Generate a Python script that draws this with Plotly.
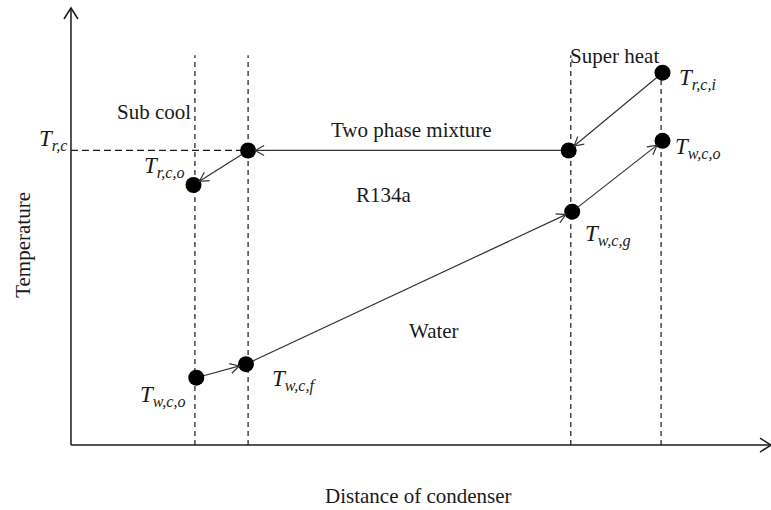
import math
import plotly.graph_objects as go

# Refrigerant (R134a) path through the condenser: inlet -> saturated vapour -> saturated liquid -> outlet
r_dist = [84.5, 71.1, 25.3, 17.5]
r_temp = [85.2, 67.4, 67.4, 59.5]
r_labels = ["<i>T<sub>r,c,i</sub></i>", "", "", "<i>T<sub>r,c,o</sub></i>"]

# Cooling water path (counter-flow)
w_dist = [17.9, 25.0, 71.6, 84.5]
w_temp = [15.4, 18.5, 53.4, 69.6]
w_labels = ["<i>T<sub>w,c,o</sub></i>", "<i>T<sub>w,c,f</sub></i>",
            "<i>T<sub>w,c,g</sub></i>", "<i>T<sub>w,c,o</sub></i>"]

# Zone boundaries along the condenser and the condensing temperature
zone_bounds = [17.7, 25.3, 71.4, 84.3]
zone_top = 89.2
T_rc = 67.4
T_rc_label = "<i>T<sub>r,c</sub></i>"

FONT = "Liberation Serif"
INK = "#1a1a1a"

W, H = 771, 510
# the drawing area fills the whole figure; the axes run 0..100 inside it
X_RANGE = [-10.14, 100.0]
Y_RANGE = [-14.87, 101.83]
# pixels per data unit, used to orient arrowheads on screen
SX = W / (X_RANGE[1] - X_RANGE[0])
SY = H / (Y_RANGE[1] - Y_RANGE[0])
AXIS_MAX = 100

fig = go.Figure()
shapes = []

# dashed zone boundaries
for i, xb in enumerate(zone_bounds):
    top = r_temp[0] if i == len(zone_bounds) - 1 else zone_top
    shapes.append(dict(type="line", x0=xb, x1=xb, y0=0, y1=top, xref="x", yref="y",
                       line=dict(color=INK, width=1.2, dash="5px,4px"), layer="below"))
# dashed condensing temperature line
shapes.append(dict(type="line", x0=0, x1=zone_bounds[1], y0=T_rc, y1=T_rc, xref="x", yref="y",
                   line=dict(color=INK, width=1.2, dash="7px,4px"), layer="below"))


def arrow(x0, y0, x1, y1, color, width, head_len, head_half, standoff):
    """Straight shaft plus an open V head whose tip sits `standoff` px before (x1, y1)."""
    dx, dy = (x1 - x0) * SX, (y1 - y0) * SY
    n = math.hypot(dx, dy)
    ux, uy = dx / n, dy / n
    tx, ty = -standoff * ux, -standoff * uy
    bx, by = tx - head_len * ux, ty - head_len * uy
    px, py = -uy * head_half, ux * head_half
    out = [dict(type="line", x0=x0, y0=y0, x1=x1, y1=y1, xref="x", yref="y",
                line=dict(color=color, width=width), layer="below")]
    out.append(dict(type="path", xref="x", yref="y", xsizemode="pixel", ysizemode="pixel",
                     xanchor=x1, yanchor=y1,
                     path=f"M{bx + px:.2f},{by + py:.2f} L{tx:.2f},{ty:.2f} L{bx - px:.2f},{by - py:.2f}",
                     line=dict(color=color, width=width), layer="above"))
    return out


for xs, ys in ((r_dist, r_temp), (w_dist, w_temp)):
    for i in range(len(xs) - 1):
        shapes += arrow(xs[i], ys[i], xs[i + 1], ys[i + 1], "#333333", 1.2, 9, 5, 7)

# coordinate axes with open arrow tips
shapes += arrow(0, 0, 0, AXIS_MAX, INK, 1.5, 11, 7, 0)
shapes += arrow(0, 0, AXIS_MAX, 0, INK, 1.5, 11, 7, 0)

# state points
fig.add_trace(go.Scatter(x=r_dist, y=r_temp, mode="markers",
                         marker=dict(size=16, color="black"), hoverinfo="skip"))
fig.add_trace(go.Scatter(x=w_dist, y=w_temp, mode="markers",
                         marker=dict(size=16, color="black"), hoverinfo="skip"))

annotations = []


def label(text, x, y, xanchor="center", xshift=0, yshift=0, size=21, angle=0):
    return dict(text=text, x=x, y=y, xref="x", yref="y", showarrow=False,
                xanchor=xanchor, yanchor="middle", xshift=xshift, yshift=yshift,
                textangle=angle, font=dict(family=FONT, size=size, color=INK))


# point labels
r_offsets = [(14, -6, "left"), None, None, (-6, 18, "right")]
for i, t in enumerate(r_labels):
    if t and r_offsets[i]:
        dx, dy, anc = r_offsets[i]
        annotations.append(label(t, r_dist[i], r_temp[i], anc, dx, dy, size=23))
w_offsets = [(-8, -18, "right"), (24, -16, "left"), (11, -24, "left"), (10, -7, "left")]
for i, t in enumerate(w_labels):
    dx, dy, anc = w_offsets[i]
    annotations.append(label(t, w_dist[i], w_temp[i], anc, dx, dy, size=23))
annotations.append(label(T_rc_label, 0, T_rc, "right", -2, 10, size=23))

# region and fluid labels
annotations += [
    label("Sub cool", 11.9, 76.3),
    label("Two phase mixture", 48.6, 72.0),
    label("Super heat", 77.7, 89.0),
    label("R134a", 44.7, 57.2),
    label("Water", 51.9, 26.1),
]

# axis titles
annotations.append(label("Distance of condenser", 49.6, -11.6))
annotations.append(label("Temperature", -6.86, 45.8, angle=-90))

fig.update_layout(
    width=W, height=H,
    margin=dict(l=0, r=0, t=0, b=0),
    paper_bgcolor="white", plot_bgcolor="white",
    showlegend=False,
    xaxis=dict(range=X_RANGE, visible=False, fixedrange=True),
    yaxis=dict(range=Y_RANGE, visible=False, fixedrange=True),
    shapes=shapes,
    annotations=annotations,
)

fig.write_html("out.html")
